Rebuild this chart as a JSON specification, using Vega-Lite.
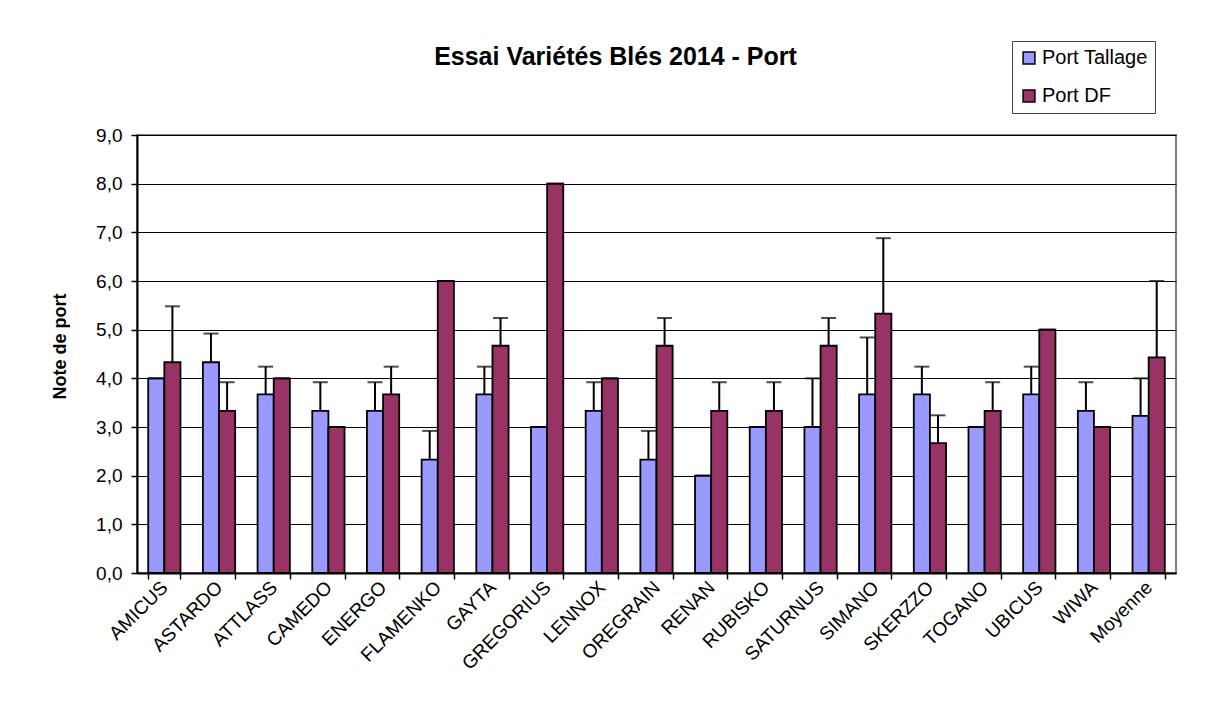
{
  "$schema": "https://vega.github.io/schema/vega-lite/v6.json",
  "autosize": {"type": "none"},
  "width": 1039,
  "height": 438,
  "padding": {"left": 137, "top": 135, "right": 29, "bottom": 147},
  "background": "white",
  "config": {
    "font": "Liberation Sans",
    "view": {"stroke": "#808080", "strokeWidth": 2}
  },
  "title": {
    "text": "Essai Variétés Blés 2014 - Port",
    "font": "Liberation Sans",
    "fontSize": 25,
    "fontWeight": "bold",
    "color": "black",
    "anchor": "middle",
    "baseline": "alphabetic",
    "dx": -41,
    "offset": -49
  },
  "data": {
    "values": [
      {"variety": "AMICUS", "series": "Port Tallage", "value": 4.0, "upper": 4.0},
      {"variety": "AMICUS", "series": "Port DF", "value": 4.33, "upper": 5.48},
      {"variety": "ASTARDO", "series": "Port Tallage", "value": 4.33, "upper": 4.92},
      {"variety": "ASTARDO", "series": "Port DF", "value": 3.33, "upper": 3.92},
      {"variety": "ATTLASS", "series": "Port Tallage", "value": 3.67, "upper": 4.24},
      {"variety": "ATTLASS", "series": "Port DF", "value": 4.0, "upper": 4.0},
      {"variety": "CAMEDO", "series": "Port Tallage", "value": 3.33, "upper": 3.92},
      {"variety": "CAMEDO", "series": "Port DF", "value": 3.0, "upper": 3.0},
      {"variety": "ENERGO", "series": "Port Tallage", "value": 3.33, "upper": 3.92},
      {"variety": "ENERGO", "series": "Port DF", "value": 3.67, "upper": 4.24},
      {"variety": "FLAMENKO", "series": "Port Tallage", "value": 2.33, "upper": 2.92},
      {"variety": "FLAMENKO", "series": "Port DF", "value": 6.0, "upper": 6.0},
      {"variety": "GAYTA", "series": "Port Tallage", "value": 3.67, "upper": 4.24},
      {"variety": "GAYTA", "series": "Port DF", "value": 4.67, "upper": 5.24},
      {"variety": "GREGORIUS", "series": "Port Tallage", "value": 3.0, "upper": 3.0},
      {"variety": "GREGORIUS", "series": "Port DF", "value": 8.0, "upper": 8.0},
      {"variety": "LENNOX", "series": "Port Tallage", "value": 3.33, "upper": 3.92},
      {"variety": "LENNOX", "series": "Port DF", "value": 4.0, "upper": 4.0},
      {"variety": "OREGRAIN", "series": "Port Tallage", "value": 2.33, "upper": 2.92},
      {"variety": "OREGRAIN", "series": "Port DF", "value": 4.67, "upper": 5.24},
      {"variety": "RENAN", "series": "Port Tallage", "value": 2.0, "upper": 2.0},
      {"variety": "RENAN", "series": "Port DF", "value": 3.33, "upper": 3.92},
      {"variety": "RUBISKO", "series": "Port Tallage", "value": 3.0, "upper": 3.0},
      {"variety": "RUBISKO", "series": "Port DF", "value": 3.33, "upper": 3.92},
      {"variety": "SATURNUS", "series": "Port Tallage", "value": 3.0, "upper": 4.0},
      {"variety": "SATURNUS", "series": "Port DF", "value": 4.67, "upper": 5.24},
      {"variety": "SIMANO", "series": "Port Tallage", "value": 3.67, "upper": 4.84},
      {"variety": "SIMANO", "series": "Port DF", "value": 5.33, "upper": 6.88},
      {"variety": "SKERZZO", "series": "Port Tallage", "value": 3.67, "upper": 4.24},
      {"variety": "SKERZZO", "series": "Port DF", "value": 2.67, "upper": 3.24},
      {"variety": "TOGANO", "series": "Port Tallage", "value": 3.0, "upper": 3.0},
      {"variety": "TOGANO", "series": "Port DF", "value": 3.33, "upper": 3.92},
      {"variety": "UBICUS", "series": "Port Tallage", "value": 3.67, "upper": 4.24},
      {"variety": "UBICUS", "series": "Port DF", "value": 5.0, "upper": 5.0},
      {"variety": "WIWA", "series": "Port Tallage", "value": 3.33, "upper": 3.92},
      {"variety": "WIWA", "series": "Port DF", "value": 3.0, "upper": 3.0},
      {"variety": "Moyenne", "series": "Port Tallage", "value": 3.23, "upper": 4.0},
      {"variety": "Moyenne", "series": "Port DF", "value": 4.43, "upper": 6.0}
    ]
  },
  "encoding": {
    "x": {
      "field": "variety",
      "type": "nominal",
      "sort": null,
      "scale": {"paddingInner": 0.41, "paddingOuter": 0.205},
      "axis": {
        "title": null,
        "labelAngle": -45,
        "labelAlign": "right",
        "labelBaseline": "middle",
        "labelFontSize": 19,
        "labelColor": "black",
        "labelPadding": 5,
        "labelOverlap": false,
        "labelFlush": false,
        "tickBand": "extent",
        "tickSize": 6,
        "tickColor": "black",
        "tickWidth": 1.5,
        "domainColor": "black",
        "domainWidth": 2
      }
    },
    "xOffset": {
      "field": "series",
      "type": "nominal",
      "sort": ["Port Tallage", "Port DF"],
      "scale": {"paddingInner": 0, "paddingOuter": 0}
    },
    "y": {
      "field": "value",
      "type": "quantitative",
      "scale": {"domain": [0, 9], "nice": false},
      "axis": {
        "title": "Note de port",
        "titleFontSize": 18,
        "titleFontWeight": "bold",
        "titleColor": "black",
        "titleX": -77,
        "titleY": 211,
        "titleBaseline": "middle",
        "values": [0, 1, 2, 3, 4, 5, 6, 7, 8, 9],
        "labelExpr": "replace(format(datum.value, '.1f'), '.', ',')",
        "labelFontSize": 19,
        "labelColor": "black",
        "labelPadding": 9,
        "tickSize": 6,
        "tickColor": "black",
        "tickWidth": 1.5,
        "domainColor": "black",
        "domainWidth": 2,
        "grid": true,
        "gridColor": "black",
        "gridWidth": 1
      }
    }
  },
  "layer": [
    {
      "mark": {"type": "bar", "stroke": "black", "strokeWidth": 1.8},
      "encoding": {
        "color": {
          "field": "series",
          "type": "nominal",
          "sort": ["Port Tallage", "Port DF"],
          "scale": {"domain": ["Port Tallage", "Port DF"], "range": ["#9999FF", "#993366"]},
          "legend": {
            "title": null,
            "orient": "none",
            "legendX": 875,
            "legendY": -94,
            "strokeColor": "#444444",
            "fillColor": "white",
            "padding": 7,
            "symbolType": "square",
            "symbolSize": 140,
            "symbolStrokeColor": "black",
            "symbolStrokeWidth": 1.5,
            "labelFontSize": 20,
            "labelColor": "black",
            "labelOffset": 3,
            "rowPadding": 18
          }
        }
      }
    },
    {
      "mark": {"type": "rule", "color": "black", "strokeWidth": 2},
      "encoding": {"y2": {"field": "upper"}}
    },
    {
      "mark": {"type": "tick", "color": "black", "thickness": 2, "size": 15},
      "encoding": {"y": {"field": "upper", "type": "quantitative"}}
    }
  ]
}
